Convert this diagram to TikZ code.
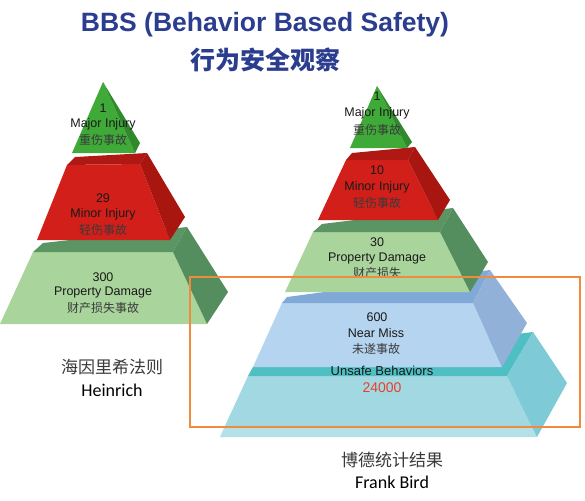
\documentclass[tikz,border=0pt]{standalone}
\usepackage{fontspec}
\setmainfont{Liberation Sans}
\newfontfamily\cjk{Noto Sans CJK SC}
\newfontfamily\calib{Carlito}
\definecolor{titleblue}{HTML}{2B3D8F}
\definecolor{gfront}{HTML}{3FAA38}
\definecolor{gside}{HTML}{2F8A2C}
\definecolor{rfront}{HTML}{D21F1A}
\definecolor{rtop}{HTML}{B01813}
\definecolor{rside}{HTML}{A9160F}
\definecolor{lgfront}{HTML}{A9D49B}
\definecolor{lgdark}{HTML}{5A9563}
\definecolor{bfront}{HTML}{B5D4EF}
\definecolor{btop}{HTML}{80A9D7}
\definecolor{bside}{HTML}{91B1D9}
\definecolor{tfront}{HTML}{A2D8E2}
\definecolor{ttop}{HTML}{4FBFC4}
\definecolor{tside}{HTML}{7ECBD7}
\definecolor{tstrip}{HTML}{B4E0E8}
\definecolor{orangebox}{HTML}{F08A3C}
\definecolor{numred}{HTML}{E8402A}
\definecolor{cjkgray}{HTML}{3A3A3A}
\begin{document}
\begin{tikzpicture}[x=1pt,y=-1pt,
  lbl/.style={inner sep=0pt, font=\fontsize{12.5}{14}\selectfont, text=black!90},
  clbl/.style={inner sep=0pt, font=\cjk\fontsize{12}{14}\selectfont, text=cjkgray},
  captioncn/.style={inner sep=0pt, font=\cjk\fontsize{17}{20}\selectfont, text=cjkgray},
  captionen/.style={inner sep=0pt, font=\calib\fontsize{18}{20}\selectfont, text=black}]
\useasboundingbox (0,0) rectangle (585,500);
\fill[white] (0,0) rectangle (585,500);

% Title
\node[inner sep=0pt, font=\bfseries\fontsize{26.5}{28}\selectfont, text=titleblue] (title) at (265,25) {BBS (Behavior Based Safety)};
\node[inner sep=0pt, font=\cjk\bfseries\fontsize{25}{28}\selectfont, text=titleblue] (titlecn) at (265,60) {行为安全观察};

% ---------- Left pyramid ----------
\fill[lgfront] (33,252) -- (173,252) -- (207,324) -- (0,324) -- cycle;
\fill[lgdark] (33,252) -- (43,243) -- (187,227) -- (173,252) -- cycle;
\fill[lgdark!95!black] (173,252) -- (187,227) -- (228,292) -- (207,324) -- cycle;
\fill[rfront] (67,165) -- (140,164) -- (170,240) -- (37,240) -- cycle;
\fill[rtop] (67,165) -- (75,157) -- (147,153) -- (140,164) -- cycle;
\fill[rside] (140,164) -- (147,153) -- (185,217) -- (170,240) -- cycle;
\fill[gfront] (103,82) -- (72,153) -- (135,153) -- cycle;
\fill[gside] (103,82) -- (140,143) -- (135,153) -- cycle;

% ---------- Right pyramid ----------
\fill[tfront] (248,376) -- (507,376) -- (533,428) -- (224,428) -- cycle;
\fill[tstrip] (224,428) -- (533,428) -- (537,437) -- (220,437) -- cycle;
\fill[ttop] (248,376) -- (253,367) -- (533,332) -- (507,376) -- cycle;
\fill[tside] (507,376) -- (533,332) -- (567,383) -- (537,437) -- cycle;
\fill[bfront] (282,303) -- (473,303) -- (502,367) -- (253,367) -- cycle;
\fill[btop] (282,303) -- (287,297) -- (490,270) -- (473,303) -- cycle;
\fill[bside] (473,303) -- (490,270) -- (527,323) -- (502,367) -- cycle;
\fill[lgfront] (313,232) -- (440,232) -- (470,292) -- (285,292) -- cycle;
\fill[lgdark] (313,232) -- (322,224) -- (453,208) -- (440,232) -- cycle;
\fill[lgdark!95!black] (440,232) -- (453,208) -- (488,262) -- (470,292) -- cycle;
\fill[rfront] (346,160) -- (408,160) -- (438,220) -- (318,220) -- cycle;
\fill[rtop] (346,160) -- (352,153) -- (415,147) -- (408,160) -- cycle;
\fill[rside] (408,160) -- (415,147) -- (450,200) -- (438,220) -- cycle;
\fill[gfront] (377,86) -- (350,148) -- (407,148) -- cycle;
\fill[gside] (377,86) -- (412,142) -- (407,148) -- cycle;

% ---------- Left labels ----------
\node[lbl] (l1n) at (103,108) {1};
\node[lbl] (l1e) at (103,124) {Major Injury};
\node[clbl] (l1c) at (103,140) {重伤事故};
\node[lbl] (l2n) at (103,198) {29};
\node[lbl] (l2e) at (103,214) {Minor Injury};
\node[clbl] (l2c) at (103,230) {轻伤事故};
\node[lbl] (l3n) at (103,277) {300};
\node[lbl] (l3e) at (103,292) {Property Damage};
\node[clbl] (l3c) at (103,308) {财产损失事故};

\node[captioncn] (hcn) at (112,367) {海因里希法则};
\node[captionen] (hen) at (112,390) {Heinrich};

% ---------- Right labels ----------
\node[lbl] (r1n) at (377,96) {1};
\node[lbl] (r1e) at (377,113) {Major Injury};
\node[clbl] (r1c) at (377,130) {重伤事故};
\node[lbl] (r2n) at (377,170) {10};
\node[lbl] (r2e) at (377,187) {Minor Injury};
\node[clbl] (r2c) at (377,203) {轻伤事故};
\node[lbl] (r3n) at (377,242) {30};
\node[lbl] (r3e) at (377,258) {Property Damage};
\node[clbl] (r3c) at (377,273) {财产损失};
\node[lbl] (r4n) at (377,317) {600};
\node[lbl] (r4e) at (376,333) {Near Miss};
\node[clbl] (r4c) at (376,349) {未遂事故};
\node[lbl, font=\fontsize{13}{15}\selectfont] (r5e) at (382,371) {Unsafe Behaviors};
\node[lbl, font=\fontsize{14}{16}\selectfont, text=numred] (r5n) at (382,388) {24000};

\node[captioncn] (bcn) at (392,460) {博德统计结果};
\node[captionen] (ben) at (392,482) {Frank Bird};

% orange frame
\draw[orangebox, line width=1.8pt] (190,277) rectangle (580,427);
\end{tikzpicture}
\end{document}
